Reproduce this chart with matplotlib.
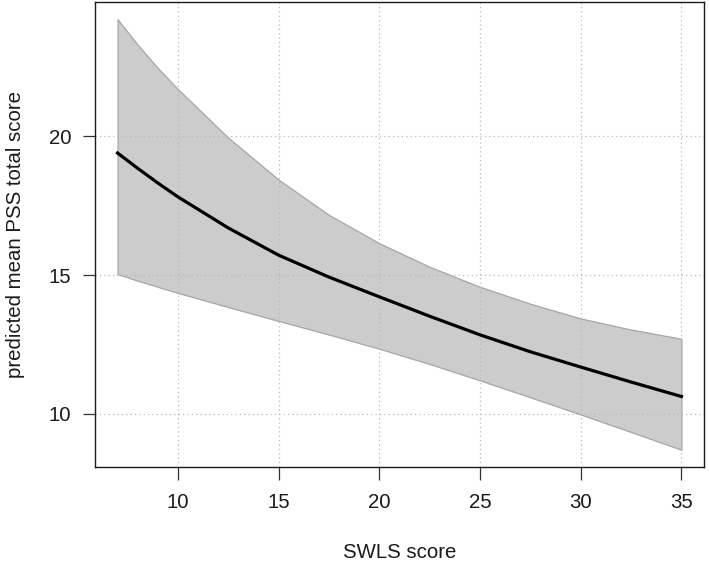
import numpy as np
import matplotlib
matplotlib.use("Agg")
import matplotlib.pyplot as plt

# ── Values ─────────────────────────────────────────────────────────────
swls = [7, 8, 9, 10, 12.5, 15, 17.5, 20, 22.5, 25, 27.5, 30, 32.5, 35]
pss_fit = [19.40, 18.85, 18.32, 17.82, 16.70, 15.72, 14.93, 14.22, 13.52, 12.85, 12.24, 11.69, 11.15, 10.63]
pss_upper = [24.22, 23.30, 22.46, 21.70, 19.95, 18.44, 17.17, 16.15, 15.30, 14.58, 13.97, 13.44, 13.04, 12.71]
pss_lower = [15.04, 14.80, 14.58, 14.36, 13.85, 13.35, 12.86, 12.35, 11.80, 11.21, 10.60, 9.98, 9.35, 8.71]

x_ticks = [10, 15, 20, 25, 30, 35]
y_ticks = [10, 15, 20]

plt.rcParams["font.family"] = ["Liberation Sans", "DejaVu Sans"]

fig = plt.figure(figsize=(7.09, 5.62), dpi=100)
ax = fig.add_axes([95 / 709, 1 - 467 / 562, 609 / 709, 465 / 562])

# confidence band
ax.fill_between(swls, pss_lower, pss_upper, facecolor="#cccccc",
                edgecolor="#a6a6a6", linewidth=0.9, zorder=1)

# dotted grid over the band, under the curve
for xv in x_ticks:
    ax.axvline(xv, color="#b8b8b8", linestyle=(0, (1, 2.5)), linewidth=0.9, zorder=2)
for yv in y_ticks:
    ax.axhline(yv, color="#b8b8b8", linestyle=(0, (1, 2.5)), linewidth=0.9, zorder=2)

ax.plot(swls, pss_fit, color="black", linewidth=2.3, zorder=3,
        solid_joinstyle="round")

# R-style 4% padding
xr = max(swls) - min(swls)
ax.set_xlim(min(swls) - 0.04 * xr, max(swls) + 0.04 * xr)
yr = max(pss_upper) - min(pss_lower)
ax.set_ylim(min(pss_lower) - 0.04 * yr, max(pss_upper) + 0.04 * yr)

ax.set_xticks(x_ticks)
ax.set_yticks(y_ticks)
ax.tick_params(axis="both", direction="out", length=9, width=0.9,
               labelsize=14.7, color="#333333", labelcolor="#1a1a1a")
ax.tick_params(axis="x", pad=10)
ax.tick_params(axis="y", pad=8)

for sp in ax.spines.values():
    sp.set_color("#1a1a1a")
    sp.set_linewidth(1.0)

ax.set_xlabel("SWLS score", fontsize=14.7, color="#1a1a1a")
ax.xaxis.set_label_coords(0.5, -(553 - 467) / 465)
ax.xaxis.label.set_verticalalignment("center")

ax.set_ylabel("predicted mean PSS total score", fontsize=14.7, color="#1a1a1a")
ax.yaxis.set_label_coords(-(95 - 15) / 609, 0.5)
ax.yaxis.label.set_verticalalignment("center")

fig.savefig("out.png", dpi=100)
